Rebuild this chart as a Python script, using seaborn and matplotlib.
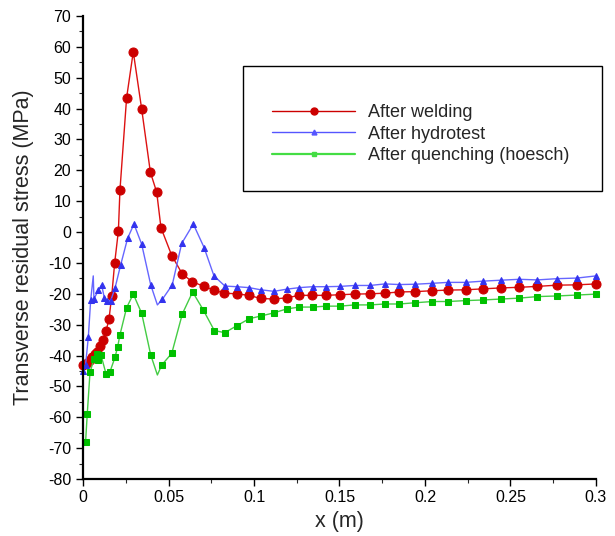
import matplotlib
matplotlib.use('Agg')
import matplotlib.pyplot as plt
import seaborn as sns
import pandas as pd
from matplotlib.lines import Line2D
from matplotlib.patches import Rectangle
from matplotlib.ticker import MultipleLocator

# values
red_x = [0.0002, 0.0022, 0.0040, 0.0055, 0.0068, 0.0080, 0.0099, 0.0115, 0.0135, 0.0152,
         0.0168, 0.0185, 0.0207, 0.0216, 0.0255, 0.0294, 0.0343, 0.0394, 0.0431, 0.0456,
         0.0519, 0.0581, 0.0639, 0.0708, 0.0766, 0.0826, 0.0899, 0.0969, 0.1039, 0.1115,
         0.1191, 0.1265, 0.1341, 0.1421, 0.1503, 0.1589, 0.1678, 0.1766, 0.1850, 0.1943,
         0.2043, 0.2135, 0.2238, 0.2339, 0.2442, 0.2551, 0.2657, 0.2772, 0.2889, 0.3000]
red_y = [-43.0, -42.5, -41.5, -40.5, -39.5, -38.7, -36.8, -35.0, -32.0, -28.2,
         -20.7, -10.1, 0.4, 13.5, 43.5, 58.4, 39.9, 19.4, 12.9, 1.4,
         -7.6, -13.6, -16.1, -17.6, -18.8, -19.8, -20.0, -20.5, -21.5, -21.7,
         -21.3, -20.5, -20.5, -20.5, -20.3, -20.1, -20.0, -19.8, -19.4, -19.3,
         -19.0, -18.8, -18.7, -18.4, -18.1, -17.9, -17.6, -17.2, -17.1, -16.8]

blue_x = [0.0, 0.0015, 0.0031, 0.0045, 0.0060, 0.0064, 0.0090, 0.0109, 0.0125, 0.0142,
          0.0162, 0.0187, 0.0220, 0.0261, 0.0298, 0.0343, 0.0396, 0.0435, 0.0464, 0.0522,
          0.0577, 0.0645, 0.0708, 0.0766, 0.0830, 0.0899, 0.0971, 0.1039, 0.1117, 0.1191,
          0.1265, 0.1343, 0.1421, 0.1503, 0.1589, 0.1678, 0.1766, 0.1850, 0.1943, 0.2043,
          0.2135, 0.2238, 0.2339, 0.2442, 0.2551, 0.2657, 0.2772, 0.2889, 0.3000]
blue_y = [-45.0, -43.0, -34.1, -22.0, -14.2, -21.7, -18.8, -17.1, -21.4, -22.2,
          -22.2, -18.2, -10.7, -2.0, 2.6, -3.9, -17.1, -23.6, -21.8, -17.1,
          -3.7, 2.6, -5.0, -14.2, -17.5, -17.7, -18.0, -18.7, -19.2, -18.5,
          -18.0, -17.7, -17.7, -17.6, -17.3, -17.3, -16.8, -17.0, -16.9, -16.6,
          -16.3, -16.3, -15.9, -15.6, -15.3, -15.5, -15.1, -14.9, -14.2]

green_x = [0.0015, 0.0025, 0.0041, 0.0064, 0.0080, 0.0090, 0.0105, 0.0135, 0.0158, 0.0187,
           0.0203, 0.0216, 0.0255, 0.0294, 0.0343, 0.0396, 0.0435, 0.0460, 0.0519, 0.0581,
           0.0641, 0.0703, 0.0768, 0.0829, 0.0901, 0.0971, 0.1039, 0.1115, 0.1191, 0.1265,
           0.1343, 0.1421, 0.1503, 0.1589, 0.1678, 0.1766, 0.1850, 0.1943, 0.2043, 0.2135,
           0.2238, 0.2339, 0.2442, 0.2551, 0.2657, 0.2772, 0.2889, 0.3000]
green_y = [-68.1, -58.8, -45.4, -41.2, -39.5, -41.4, -39.8, -46.0, -45.2, -40.6,
           -37.1, -33.3, -24.5, -20.1, -26.3, -39.8, -46.3, -43.1, -39.3, -26.5,
           -19.4, -25.2, -31.9, -32.6, -30.3, -28.1, -27.2, -26.2, -24.9, -24.3,
           -24.3, -24.0, -24.0, -23.6, -23.6, -23.3, -23.3, -22.9, -22.5, -22.5,
           -22.2, -22.0, -21.7, -21.4, -20.9, -20.7, -20.4, -20.1]

labels = ['After welding', 'After hydrotest', 'After quenching (hoesch)']
x_ticks = [0, 0.05, 0.1, 0.15, 0.2, 0.25, 0.3]
x_ticklabels = ['0', '0.05', '0.1', '0.15', '0.2', '0.25', '0.3']

sns.set_style('ticks')
plt.rcParams['font.family'] = ['Liberation Sans', 'DejaVu Sans']
plt.rcParams['axes.unicode_minus'] = False

fig = plt.figure(figsize=(6.15, 5.36), dpi=100)
ax = fig.add_axes([83 / 615, 1 - 479 / 536, 513 / 615, 463 / 536])

# vertices drawn without a marker in the original
blue_skip = {4, 17}
green_skip = {16}

series = [
    (red_x, red_y, '#dd1111', '#cc0000', 'o', 6.5, set()),
    (blue_x, blue_y, '#6666ff', '#3333ee', '^', 5, blue_skip),
    (green_x, green_y, '#44cc44', '#00c000', 's', 5, green_skip),
]

for (xs, ys, lc, mc, mk, ms, skip), lab in zip(series, labels):
    df = pd.DataFrame({'x': xs, 'y': ys})
    sns.lineplot(data=df, x='x', y='y', ax=ax, color=lc, linewidth=1.0,
                 sort=False, estimator=None, legend=False)
    line = ax.lines[-1]
    line.set_marker(mk)
    line.set_markersize(ms)
    line.set_markerfacecolor(mc)
    line.set_markeredgecolor(mc)
    line.set_markevery([i for i in range(len(xs)) if i not in skip])
    line.set_clip_on(False)

ax.set_xlim(0, 0.3)
ax.set_ylim(-80, 70)
ax.xaxis.set_minor_locator(MultipleLocator(0.025))
ax.yaxis.set_major_locator(MultipleLocator(10))
ax.yaxis.set_minor_locator(MultipleLocator(5))
ax.set_xticks(x_ticks)
ax.set_xticklabels(x_ticklabels)

sns.despine(ax=ax)
for s in ['left', 'bottom']:
    ax.spines[s].set_linewidth(1.6)
    ax.spines[s].set_color('black')
ax.tick_params(which='major', direction='out', length=5, width=1.0, labelsize=11.5, colors='black')
ax.tick_params(which='minor', direction='out', length=3, width=0.8)
ax.tick_params(axis='x', pad=3)

ax.set_xlabel('x (m)', fontsize=15.5, labelpad=4)
ax.set_ylabel('Transverse residual stress (MPa)', fontsize=15.5, labelpad=10)
ax.grid(False)

# legend box
box = Rectangle((0.311, 0.622), 0.701, 0.271, transform=ax.transAxes,
                facecolor='white', edgecolor='black', linewidth=1.0,
                clip_on=False, zorder=5)
ax.add_patch(box)
handles = [
    Line2D([0], [0], color='#cc0000', linewidth=1.0, marker='o', markersize=5),
    Line2D([0], [0], color='#5555ff', linewidth=1.0, marker='^', markersize=3.5),
    Line2D([0], [0], color='#44dd44', linewidth=1.6, marker='s', markersize=3.5),
]
leg = ax.legend(handles, labels, loc='center left', bbox_to_anchor=(0.355, 0.745),
                frameon=False, fontsize=13, handlelength=4.6, handletextpad=0.7,
                labelspacing=0.25, borderaxespad=0)
leg.set_zorder(6)

fig.savefig('out.png', dpi=100)
